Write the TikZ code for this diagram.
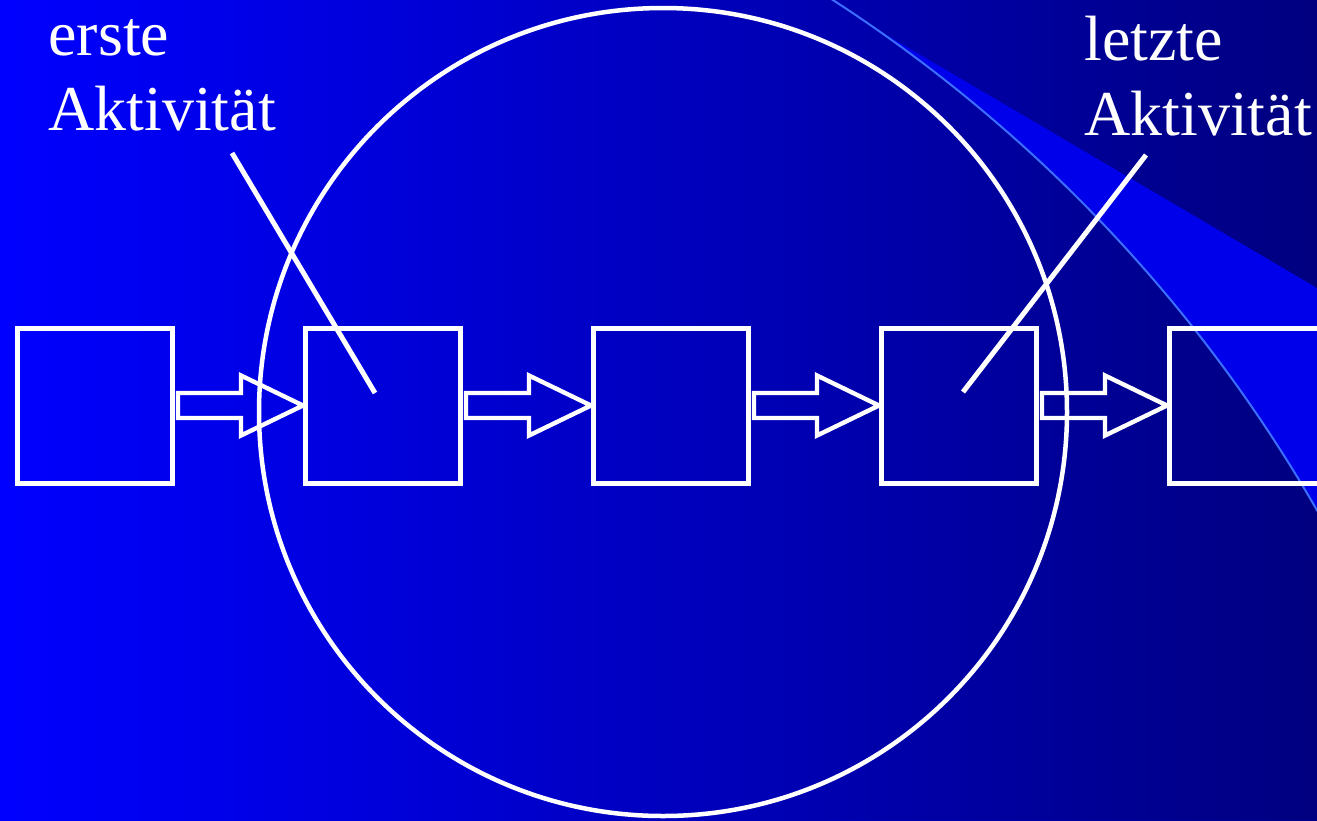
\documentclass[tikz,border=0pt]{standalone}
\usepackage{fontspec}
\setmainfont{Liberation Serif}
\usetikzlibrary{positioning,calc}

\definecolor{bgleft}{RGB}{0,0,255}
\definecolor{bgright}{RGB}{0,0,128}
\definecolor{wedgeblue}{RGB}{0,0,235}
\definecolor{arcblue}{RGB}{60,110,255}

% hollow block arrow from one box to the next
\newcommand{\blockarrow}[2]{%
  \draw[arrowline] ($(#1.east)+(3,-12.5)$) -- ($(#2.west)+(-62,-12.5)$) -- ($(#2.west)+(-62,-30)$)
    -- (#2.west) -- ($(#2.west)+(-62,30)$) -- ($(#2.west)+(-62,12.5)$) -- ($(#1.east)+(3,12.5)$) -- cycle;}

\begin{document}
\begin{tikzpicture}[x=0.5pt, y=-0.5pt,
	box/.style={draw=white, line width=2.5pt, minimum size=77.5pt, inner sep=0pt},
	arrowline/.style={draw=white, line width=2.2pt, line join=miter},
	labeltext/.style={text=white, align=left, inner sep=0pt, font=\fontsize{32}{37.5}\selectfont},
	node distance=144pt, on grid]
	\useasboundingbox (0,0) rectangle (1317,820);
	\begin{scope}
	\clip (0,0) rectangle (1317,820);
	% background
	\shade[left color=bgleft, right color=bgright] (0,0) rectangle (1317,820);
	\begin{scope}
		\clip (827,0) -- (1317,288) -- (1317,820) -- (827,820) -- cycle;
		\fill[wedgeblue, even odd rule] (0,0) rectangle (1317,820) (25,1251) circle[radius=1489];
	\end{scope}
	\draw[arcblue, line width=1pt] (25,1251) circle[radius=1489];
	\end{scope}

	% process circle
	\node[draw=white, circle, line width=2.25pt, minimum size=404pt, inner sep=0pt] (prozess) at (663,412) {};

	% activities
	\node[box] (b1) at (95,405.5) {};
	\node[box, right=of b1] (b2) {};
	\node[box, right=of b2] (b3) {};
	\node[box, right=of b3] (b4) {};
	\node[box, right=of b4] (b5) {};
	\foreach \a/\b in {b1/b2, b2/b3, b3/b4, b4/b5}
		\blockarrow{\a}{\b};

	% labels
	\node[labeltext, anchor=base west] (erste) at (48,130) {erste\\Aktivität};
	\node[labeltext, anchor=base west] (letzte) at (1084,135) {letzte\\Aktivität};
	\coordinate (e1) at (232,153);
	\coordinate (e2) at (375,393);
	\coordinate (l1) at (1146,155);
	\coordinate (l2) at (963,392);
	\draw[white, line width=2.5pt] (e1) -- (e2);
	\draw[white, line width=2.5pt] (l1) -- (l2);
\end{tikzpicture}
\end{document}
